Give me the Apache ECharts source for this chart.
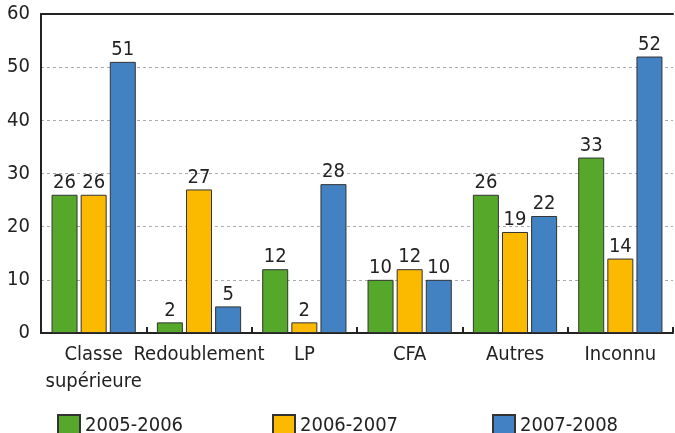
<!DOCTYPE html>
<html>
<head>
<meta charset="utf-8">
<script src="https://cdn.jsdelivr.net/npm/echarts@6/dist/echarts.min.js"></script>
<style>
  html, body { margin: 0; padding: 0; background: #fff; }
  #chart { width: 675px; height: 433px; }
</style>
</head>
<body>
<div id="chart"></div>
<script>
var categories = ['Classe\nsupérieure', 'Redoublement', 'LP', 'CFA', 'Autres', 'Inconnu'];
var years = ['2005-2006', '2006-2007', '2007-2008'];
var v2005 = [26, 2, 12, 10, 26, 33];
var v2006 = [26, 27, 2, 12, 19, 14];
var v2007 = [51, 5, 28, 10, 22, 52];
var colors = ['#56a82b', '#fbba00', '#4282c2'];

var font = '"Liberation Sans Narrow", "DejaVu Sans Condensed", sans-serif';
var textCol = '#222';

function makeSeries(name, data, color) {
    return {
        name: name,
        type: 'bar',
        data: data,
        barWidth: 26,
        barGap: '12%',
        itemStyle: { color: color, borderColor: '#333', borderWidth: 1 },
        label: {
            show: true,
            position: 'top',
            distance: 2,
            color: textCol,
            fontFamily: font,
            fontSize: 20
        }
    };
}

var myChart = echarts.init(document.getElementById('chart'));
var option = {
    animation: false,
    grid: { left: 41, right: 2, top: 14, bottom: 100 },
    legend: [0, 1, 2].map(function (i) {
        return {
            data: [years[i]],
            left: [52, 267, 487][i],
            top: 409,
            icon: 'rect',
            itemWidth: 22,
            itemHeight: 22,
            itemGap: 10,
            textStyle: { color: textCol, fontFamily: font, fontSize: 20 }
        };
    }),
    xAxis: [{
        type: 'category',
        data: categories,
        axisLine: { lineStyle: { color: '#222', width: 2 } },
        axisTick: { show: true, inside: true, length: 6, lineStyle: { color: '#222', width: 2 } },
        axisLabel: {
            color: textCol,
            fontFamily: font,
            fontSize: 20,
            margin: 8,
            lineHeight: 27,
            interval: 0
        }
    }, {
        type: 'category',
        position: 'top',
        data: categories,
        axisLine: { show: true, lineStyle: { color: '#222', width: 2 } },
        axisTick: { show: false },
        axisLabel: { show: false }
    }],
    yAxis: {
        type: 'value',
        min: 0,
        max: 60,
        interval: 10,
        axisLine: { show: true, lineStyle: { color: '#222', width: 2 } },
        axisTick: { show: false },
        axisLabel: { color: textCol, fontFamily: font, fontSize: 20, margin: 11 },
        splitLine: { lineStyle: { color: '#aaa', type: [3, 3], width: 1 } }
    },
    series: [
        makeSeries(years[0], v2005, colors[0]),
        makeSeries(years[1], v2006, colors[1]),
        makeSeries(years[2], v2007, colors[2])
    ]
};
myChart.setOption(option);
</script>
</body>
</html>
